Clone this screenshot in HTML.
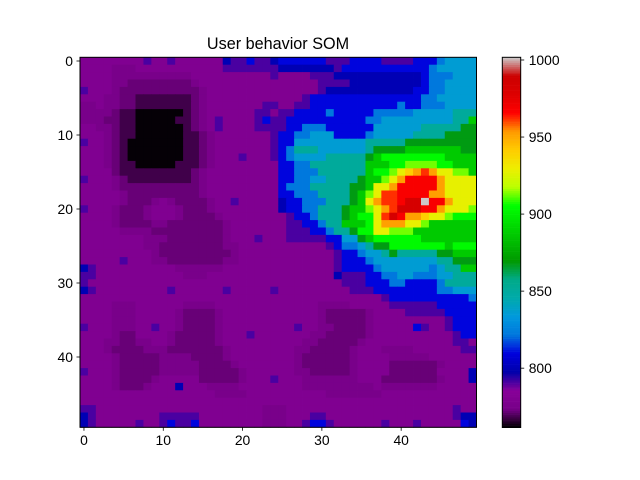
<!DOCTYPE html>
<html><head><meta charset="utf-8"><style>
html,body{margin:0;padding:0;background:#fff;}
svg{display:block;font-family:"Liberation Sans","DejaVu Sans",sans-serif;}
</style></head><body>
<svg id="chart" width="640" height="480" viewBox="0 0 640 480" xmlns="http://www.w3.org/2000/svg">
<rect width="640" height="480" fill="#fff"/>
<text x="278" y="49" font-size="16.2" text-anchor="middle" fill="#000">User behavior SOM</text>
<g id="heat"></g>
<rect x="80" y="57.3" width="396.5" height="370" fill="none" stroke="#000" stroke-width="1"/>
<g id="xaxis"></g>
<g id="yaxis"></g>
<g id="cbar"></g>
</svg>
<script>
// value levels encoded by character
const levelChars = "0123456789abcdefghlijk";
const levelValues = [762,768,772,775,780,791,800,810,822,836,851,868,887,904,913,928,941,952,962,968,983,1001.5];
// 50x50 SOM grid (row = y index, char = level; spaces ignored)
const gridRows = [
"44444 44454 45444 44465 57556 77777 75557 77755 55777 89999",
"44443 33444 44444 44455 55555 66666 66577 77777 77778 99999",
"44443 33333 33334 44444 44445 44445 55666 66666 66678 88999",
"44443 32222 22223 44444 44444 44444 55556 66666 66678 89999",
"54443 22222 22222 34444 44444 44444 56666 66666 66778 89999",
"44433 22111 11112 34444 44444 44457 77777 77777 77788 99999",
"33433 22111 11112 34444 44455 44557 77777 77777 87788 89999",
"33332 11000 00012 34444 44554 55777 78777 77888 88999 99aaa",
"33322 11000 00112 34544 44575 57777 77777 78899 99999 99aac",
"44332 11000 00012 34544 44555 57788 87777 77999 999aa aaabb",
"44432 11000 00011 23444 44445 77889 99777 78999 99aaa abbbb",
"54432 10000 00011 23444 44445 77999 99999 9aaaa abbbb bbbbb",
"44432 10000 00011 23444 44445 78aaa 99999 9abbb bcccc cccbb",
"44432 10000 00011 23444 54445 78999 9aaaa abcdd ddddd dcccc",
"44432 11000 00111 23444 44444 7788a aaaaa acccd deeee ddccc",
"44442 11111 11112 34444 44444 77888 aaaaa acdde fghlh ffeec",
"54443 21111 11112 34444 44444 77889 9aaaa bccef hiiii hffff",
"44443 22222 22222 34444 44444 7888a aaaab bcffh iiiii hffff",
"44444 32222 22222 34444 44444 77888 aaaab cefll iiiih hffff",
"44444 32223 43222 23445 44444 67788 8aaab cfhll ijjki ihfff",
"54443 22234 44322 23444 44444 67788 aaabc cefhl jjjii hfffe",
"44443 22234 44322 22344 44444 45778 aaabc ddflj ihhgf feddd",
"44443 22223 32222 22234 44444 45577 8aacc cdfhh hffec ccccc",
"44444 33332 22222 22234 44444 45557 78aab ddffe eeccc ccccc",
"44444 44433 32222 22234 44544 45555 57799 bcddd dddcc ccccc",
"44444 44433 22222 22233 44444 44444 45788 9abbd ddddd dcddd",
"44444 44443 22222 22223 44444 44444 44577 899ab aaaaa bbccc",
"44444 54443 32222 22233 44444 44444 44577 78999 99999 aabbb",
"65444 44444 44333 33344 44444 44444 44577 77899 99998 9aacc",
"55444 44444 44433 34444 44444 44444 44655 57788 99888 99aaa",
"54444 44444 44444 44444 44444 44444 44455 57778 87777 8aaaa",
"65444 44444 45444 44454 44445 44444 44445 55777 77777 88999",
"44444 44444 44444 44444 44444 44444 44444 44457 77777 77778",
"44443 33444 44433 33444 44444 44444 33334 44445 55555 77777",
"44443 33444 44322 22344 44444 44444 32222 23444 45555 57777",
"44443 33444 44322 22344 44444 44444 32222 23444 44444 45777",
"54443 33445 44322 22344 44444 44544 33222 23444 44754 45777",
"44443 22444 43222 22344 45444 44443 32222 23444 44444 44577",
"44433 22334 43222 22344 44444 44433 22222 34444 44444 44554",
"44432 22233 32222 22234 44444 44332 22223 44433 33444 44455",
"44443 22222 33332 22234 44444 44322 22223 44443 33334 44444",
"44443 22222 33333 22223 44444 44322 22223 44442 22222 34444",
"54443 22222 33333 22222 34444 44332 22223 44442 22222 44446",
"44443 22223 44444 22222 34445 44433 33333 44422 22222 34446",
"44443 22234 44644 43333 44444 44433 33333 33433 33333 44444",
"44444 44444 44444 44333 34444 44444 43333 33344 44444 44444",
"44444 44444 44444 44444 44444 44444 44444 44444 44444 44444",
"55444 44444 44444 44444 44433 34444 44444 44444 44444 44544",
"65444 44444 55555 44444 44433 34445 54444 44444 44444 44566",
"65444 44544 57557 44444 44433 34457 75444 44454 44544 44476"
];
const tickX = [0,10,20,30,40];
const tickY = [0,10,20,30,40];
const cbarTicks = [800,850,900,950,1000];
const vmin = 761.5, vmax = 1001.75;

// nipy_spectral colormap segments
const cmR=[[0,0],[.05,.4667],[.10,.5333],[.15,0],[.60,0],[.65,.7333],[.70,.9333],[.75,1],[.85,1],[.90,.8667],[.95,.8],[1,.8]];
const cmG=[[0,0],[.20,0],[.25,.4667],[.30,.6],[.35,.6667],[.40,.6667],[.45,.6],[.50,.7333],[.55,.8667],[.60,1],[.65,1],[.70,.9333],[.75,.8],[.80,.6],[.85,0],[.95,0],[1,.8]];
const cmB=[[0,0],[.05,.5333],[.10,.6],[.15,.6667],[.20,.8667],[.30,.8667],[.35,.6667],[.40,.5333],[.45,0],[.95,0],[1,.8]];
function seg(s,t){for(let i=1;i<s.length;i++){if(t<=s[i][0]){const a=s[i-1],b=s[i];return a[1]+(b[1]-a[1])*(t-a[0])/(b[0]-a[0]);}}return s[s.length-1][1];}
function cmap(v){let t=(v-vmin)/(vmax-vmin);t=Math.max(0,Math.min(1,t));
return "rgb("+Math.round(seg(cmR,t)*255)+","+Math.round(seg(cmG,t)*255)+","+Math.round(seg(cmB,t)*255)+")";}

const NS="http://www.w3.org/2000/svg";
const X0=80,Y0=57.3,W=396.5,H=370,N=50;
const cw=W/N, ch=H/N;
function xPos(c){return X0+c*cw;}
function yPos(r){return Y0+r*ch;}
function mk(tag,attrs,parent){const e=document.createElementNS(NS,tag);for(const k in attrs)e.setAttribute(k,attrs[k]);parent.appendChild(e);return e;}

const heat=document.getElementById("heat");
gridRows.forEach((rowStr,r)=>{
  const s=rowStr.replace(/ /g,"");
  for(let c=0;c<N;c++){
    const ch0=s[c]||"4";
    const idx=levelChars.indexOf(ch0);
    const v=levelValues[idx<0?4:idx];
    const rc=mk("rect",{x:xPos(c).toFixed(2),y:yPos(r).toFixed(2),width:(cw+0.4).toFixed(2),height:(ch+0.4).toFixed(2),fill:cmap(v)},heat);
    
    
  }
});

const xa=document.getElementById("xaxis");
tickX.forEach(t=>{const x=xPos(t+0.5);
  const l=mk("line",{x1:x,y1:427.3,x2:x,y2:430.8,stroke:"#000","stroke-width":0.8},xa);
  
  
  const tx=mk("text",{x:x,y:445,"font-size":13.9,"text-anchor":"middle",fill:"#000"},xa);tx.textContent=t;
  
  
});
const ya=document.getElementById("yaxis");
tickY.forEach(t=>{const y=yPos(t+0.5);
  const l=mk("line",{x1:76.5,y1:y,x2:80,y2:y,stroke:"#000","stroke-width":0.8},ya);
  
  
  const tx=mk("text",{x:73,y:y+5,"font-size":13.9,"text-anchor":"end",fill:"#000"},ya);tx.textContent=t;
  
  
});

const cb=document.getElementById("cbar");
const CX=502.3,CW=18.4,CT=57.3,CB=427.5;
function cbY(v){return CB-(v-vmin)/(vmax-vmin)*(CB-CT);}
const steps=200;
for(let i=0;i<steps;i++){const v0=vmin+(vmax-vmin)*i/steps,v1=vmin+(vmax-vmin)*(i+1)/steps;
  const r=mk("rect",{x:CX,y:cbY(v1).toFixed(2),width:CW,height:(cbY(v0)-cbY(v1)+0.3).toFixed(2),fill:cmap((v0+v1)/2)},cb);
  
  
}
const fr=mk("rect",{x:CX,y:CT,width:CW,height:CB-CT,fill:"none",stroke:"#000","stroke-width":1},cb);


cbarTicks.forEach(t=>{const y=cbY(t);
  const l=mk("line",{x1:CX+CW,y1:y,x2:CX+CW+3.5,y2:y,stroke:"#000","stroke-width":0.8},cb);
  
  
  const tx=mk("text",{x:CX+CW+8,y:y+5,"font-size":13.9,fill:"#000"},cb);tx.textContent=t;
  
  
});
</script>
</body></html>
